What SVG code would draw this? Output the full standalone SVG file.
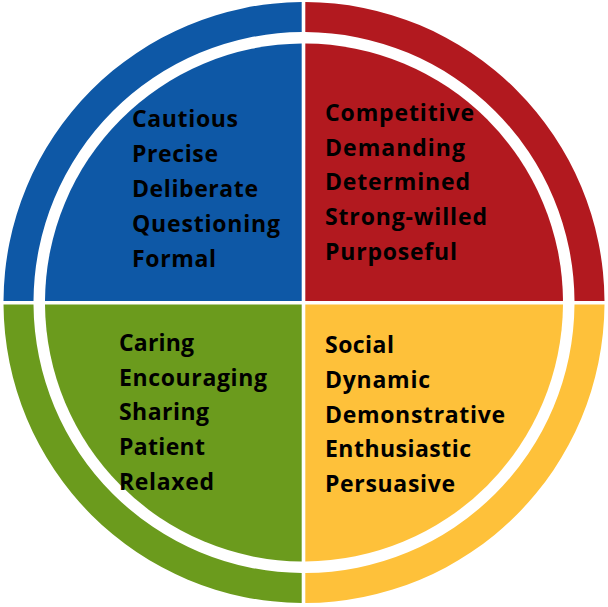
<svg xmlns="http://www.w3.org/2000/svg" width="608" height="607" viewBox="0 0 608 607">
<style>
.t{font-family:"Open Sans","DejaVu Sans",sans-serif;font-weight:bold;font-size:23px;fill:#000}
.blue{fill:#0E58A6}.red{fill:#B2191F}.green{fill:#6B9B1D}.yellow{fill:#FEC13A}
</style>
<rect width="608" height="607" fill="#fff"/>
<g id="q-blue">
<path class="blue" d="M301.7 2.01A300.5 300.5 0 0 0 3.5 301L33.5 301A270.5 270.5 0 0 1 301.7 32.01Z"/>
<path class="blue" d="M301.7 301L301.7 43.51A259 259 0 0 0 45 301Z"/>
<text class="t"><tspan x="132" y="127" textLength="106" lengthAdjust="spacing">Cautious</tspan><tspan x="132" y="162" textLength="86" lengthAdjust="spacing">Precise</tspan><tspan x="132" y="197" textLength="126" lengthAdjust="spacing">Deliberate</tspan><tspan x="132" y="232" textLength="148" lengthAdjust="spacing">Questioning</tspan><tspan x="132" y="267" textLength="84" lengthAdjust="spacing">Formal</tspan></text>
</g>
<g id="q-red">
<path class="red" d="M305.3 2A300.5 300.5 0 0 1 604.5 301L574.5 301A270.5 270.5 0 0 0 305.3 32Z"/>
<path class="red" d="M305.3 301L305.3 43.5A259 259 0 0 1 563 301Z"/>
<text class="t"><tspan x="325" y="121" textLength="149" lengthAdjust="spacing">Competitive</tspan><tspan x="325" y="156" textLength="140" lengthAdjust="spacing">Demanding</tspan><tspan x="325" y="190" textLength="145" lengthAdjust="spacing">Determined</tspan><tspan x="325" y="225" textLength="162" lengthAdjust="spacing">Strong-willed</tspan><tspan x="325" y="260" textLength="132" lengthAdjust="spacing">Purposeful</tspan></text>
</g>
<g id="q-green">
<path class="green" d="M3.5 304.6A300.5 300.5 0 0 0 301.7 603L301.7 573A270.5 270.5 0 0 1 33.5 304.6Z"/>
<path class="green" d="M301.7 304.6L45 304.6A259 259 0 0 0 301.7 561.5Z"/>
<text class="t"><tspan x="119" y="351" textLength="75" lengthAdjust="spacing">Caring</tspan><tspan x="119" y="386" textLength="148" lengthAdjust="spacing">Encouraging</tspan><tspan x="119" y="420" textLength="90" lengthAdjust="spacing">Sharing</tspan><tspan x="119" y="455" textLength="86" lengthAdjust="spacing">Patient</tspan><tspan x="119" y="490" textLength="95" lengthAdjust="spacing">Relaxed</tspan></text>
</g>
<g id="q-yellow">
<path class="yellow" d="M604.5 304.6A300.5 300.5 0 0 1 305.3 603L305.3 573A270.5 270.5 0 0 0 574.5 304.6Z"/>
<path class="yellow" d="M305.3 304.6L563 304.6A259 259 0 0 1 305.3 561.5Z"/>
<text class="t"><tspan x="325" y="353" textLength="69" lengthAdjust="spacing">Social</tspan><tspan x="325" y="388" textLength="105" lengthAdjust="spacing">Dynamic</tspan><tspan x="325" y="423" textLength="180" lengthAdjust="spacing">Demonstrative</tspan><tspan x="325" y="457" textLength="146" lengthAdjust="spacing">Enthusiastic</tspan><tspan x="325" y="492" textLength="130" lengthAdjust="spacing">Persuasive</tspan></text>
</g>
<g id="connectors"/>
</svg>
